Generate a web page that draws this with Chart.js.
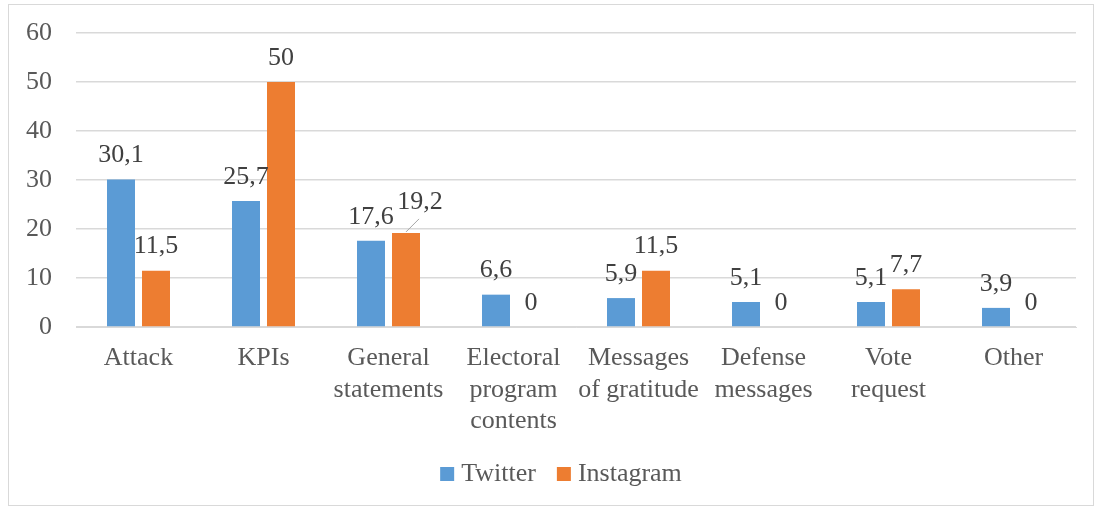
<html>
<head>
  <script src="https://cdn.jsdelivr.net/npm/chart.js"></script>
  <style>
    body { margin: 0; background: #fff; }
    #wrap { width: 1096px; height: 508px; }
  </style>
</head>
<body>
  <div id="wrap"><canvas id="chart" width="1096" height="508"></canvas></div>
  <script>
    // categories and values
    const categories = [
      'Attack',
      'KPIs',
      ['General', 'statements'],
      ['Electoral', 'program', 'contents'],
      ['Messages', 'of gratitude'],
      ['Defense', 'messages'],
      ['Vote', 'request'],
      'Other'
    ];
    const twitter = [30.1, 25.7, 17.6, 6.6, 5.9, 5.1, 5.1, 3.9];
    const instagram = [11.5, 50, 19.2, 0, 11.5, 0, 7.7, 0];
    const yTicks = [0, 10, 20, 30, 40, 50, 60];

    const FONT = '"Liberation Serif", "Times New Roman", serif';

    // border round the whole chart
    const borderPlugin = {
      id: 'frame',
      beforeDraw(chart) {
        const c = chart.ctx;
        c.save();
        c.fillStyle = '#fff';
        c.fillRect(0, 0, chart.width, chart.height);
        c.strokeStyle = '#d9d9d9';
        c.lineWidth = 1;
        c.strokeRect(8.5, 4.5, 1085, 501);
        c.restore();
      }
    };

    // value labels above the bars, comma as decimal sign
    const labelPlugin = {
      id: 'valueLabels',
      afterDatasetsDraw(chart) {
        const c = chart.ctx;
        c.save();
        c.font = '26px ' + FONT;
        c.fillStyle = '#404040';
        c.textAlign = 'center';
        c.textBaseline = 'middle';
        chart.data.datasets.forEach((ds, di) => {
          chart.getDatasetMeta(di).data.forEach((bar, i) => {
            const txt = String(ds.data[i]).replace('.', ',');
            let x = bar.x, y = bar.y - 24;
            // this one sits aside with a leader line
            if (di === 1 && i === 2) {
              x += 14; y -= 7;
              c.strokeStyle = '#a6a6a6';
              c.lineWidth = 1;
              c.beginPath();
              c.moveTo(bar.x, bar.y - 1);
              c.lineTo(bar.x + 13, bar.y - 14);
              c.stroke();
            }
            c.fillText(txt, x, y);
          });
        });
        c.restore();
      }
    };

    // legend drawn by hand so the spacing follows the original
    const legendPlugin = {
      id: 'bottomLegend',
      afterDraw(chart) {
        const c = chart.ctx;
        c.save();
        c.font = '26px ' + FONT;
        c.textBaseline = 'middle';
        const box = 14, gap = 7, space = 21, cy = 474;
        const items = chart.data.datasets.map(ds => ({ text: ds.label, color: ds.backgroundColor, w: c.measureText(ds.label).width }));
        let total = items.reduce((s, it) => s + box + gap + it.w, 0) + space * (items.length - 1);
        let x = 561 - total / 2;
        items.forEach(it => {
          c.fillStyle = it.color;
          c.fillRect(x, cy - box / 2, box, box);
          x += box + gap;
          c.fillStyle = '#595959';
          c.fillText(it.text, x, cy);
          x += it.w + space;
        });
        c.restore();
      }
    };

    new Chart(document.getElementById('chart'), {
      type: 'bar',
      data: {
        labels: categories,
        datasets: [{
          label: 'Twitter',
          data: twitter,
          backgroundColor: '#5b9bd5',
          barPercentage: 0.8,
          categoryPercentage: 0.56
        }, {
          label: 'Instagram',
          data: instagram,
          backgroundColor: '#ed7d31',
          barPercentage: 0.8,
          categoryPercentage: 0.56
        }]
      },
      options: {
        responsive: false,
        animation: false,
        layout: { padding: { left: 8, right: 20, top: 33, bottom: 68 } },
        plugins: {
          tooltip: { enabled: false },
          legend: { display: false }
        },
        scales: {
          x: {
            grid: { display: false, drawTicks: false },
            border: { color: '#d9d9d9' },
            ticks: {
              color: '#595959',
              padding: 16,
              maxRotation: 0,
              autoSkip: false,
              font: { family: FONT, size: 26, lineHeight: 1.2 }
            },
            afterFit(s) { s.height = 113; s.paddingLeft = 0; s.paddingRight = 0; }
          },
          y: {
            min: 0,
            max: 60,
            afterBuildTicks(s) { s.ticks = yTicks.map(v => ({ value: v })); },
            grid: { color: '#d9d9d9', lineWidth: 1.5, drawTicks: false },
            border: { display: false },
            ticks: {
              color: '#595959',
              padding: 24,
              font: { family: FONT, size: 26 }
            },
            afterFit(s) { s.width = 68; s.paddingTop = 0; s.paddingBottom = 0; }
          }
        }
      },
      plugins: [borderPlugin, labelPlugin, legendPlugin]
    });
  </script>
</body>
</html>
